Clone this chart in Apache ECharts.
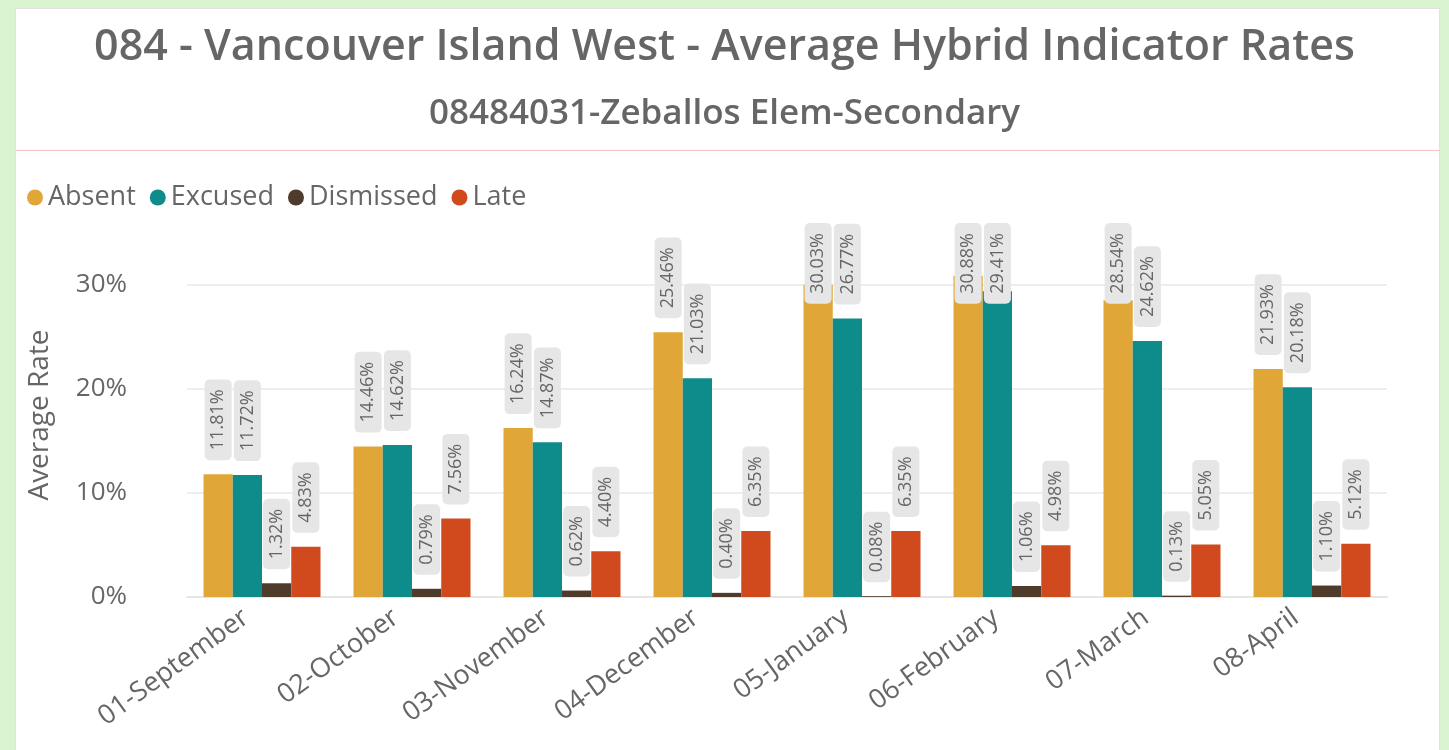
<!DOCTYPE html>
<html>
<head>
<meta charset="utf-8">
<script src="https://cdn.jsdelivr.net/npm/echarts@6/dist/echarts.min.js"></script>
<style>
html,body{margin:0;padding:0;width:1449px;height:750px;overflow:hidden;background:#d9f2d0;}
#panel{position:absolute;left:15px;top:8px;width:1425px;height:760px;background:#fff;border:1px solid #e2e2e2;box-sizing:border-box;}
#rule{position:absolute;left:16px;top:150px;width:1424px;height:1px;background:#f4c4c4;}
#chart{position:absolute;left:0;top:0;width:1449px;height:750px;}
</style>
</head>
<body>
<div id="panel"></div>
<div id="rule"></div>
<div id="chart"></div>
<script>
const titleText = '084 - Vancouver Island West - Average Hybrid Indicator Rates';
const subtitleText = '08484031-Zeballos Elem-Secondary';
const categories = ['01-September','02-October','03-November','04-December','05-January','06-February','07-March','08-April'];
const seriesNames = ['Absent','Excused','Dismissed','Late'];
const absent    = [11.81, 14.46, 16.24, 25.46, 30.03, 30.88, 28.54, 21.93];
const excused   = [11.72, 14.62, 14.87, 21.03, 26.77, 29.41, 24.62, 20.18];
const dismissed = [1.32, 0.79, 0.62, 0.40, 0.08, 1.06, 0.13, 1.10];
const late      = [4.83, 7.56, 4.40, 6.35, 6.35, 4.98, 5.05, 5.12];
const colors = ['#e0a738','#0e8c8c','#4f3b2b','#d04a1e'];
const FONT = "'Segoe UI','Open Sans',sans-serif";
const LABEL_TOP = 223; // labels are kept inside the plot area

const chart = echarts.init(document.getElementById('chart'), null, {renderer:'canvas'});
const seriesData = [absent, excused, dismissed, late];
const series = seriesData.map((d,i)=>({
  name: seriesNames[i],
  type: 'bar',
  data: d,
  barGap: '0%',
  barCategoryGap: '22%',
  clip: false,
  itemStyle: {color: colors[i]},
  label: {
    show: true,
    position: 'top',
    rotate: 90,
    align: 'left',
    verticalAlign: 'middle',
    distance: 14,
    formatter: p => p.value.toFixed(2) + '%',
    color: '#666',
    fontFamily: FONT,
    fontSize: 18,
    backgroundColor: '#e6e6e6',
    borderRadius: 5,
    padding: [5, 10, 4, 10]
  },
  labelLayout: function (p) {
    const r = p.labelRect;
    if (r && r.y < LABEL_TOP) return {dx: -(LABEL_TOP - r.y)};
    return {};
  }
}));

chart.setOption({
  animation: false,
  color: colors,
  title: [
    {text: titleText, left: 'center', top: 21,
     textStyle:{fontFamily: FONT, fontSize: 43, fontWeight: 600, color:'#666'}},
    {text: subtitleText, left: 'center', top: 92,
     textStyle:{fontFamily: FONT, fontSize: 35, fontWeight: 600, color:'#666'}}
  ],
  legend: {
    left: 22, top: 179,
    icon: 'circle',
    itemWidth: 16, itemHeight: 16,
    itemGap: 14,
    textStyle: {fontFamily: FONT, fontSize: 27, color:'#666'},
    data: seriesNames
  },
  grid: {left: 187, right: 62, top: 233, bottom: 153, containLabel: false},
  xAxis: {
    type: 'category',
    data: categories,
    axisLine: {show: true, lineStyle:{color:'#e6e6e6', width:2}},
    axisTick: {show: false},
    axisLabel: {rotate: 36, fontFamily: FONT, fontSize: 27, color:'#666', margin: 6, padding: [0, 20, 0, 0]}
  },
  yAxis: {
    type: 'value',
    min: 0, max: 35, interval: 10,
    name: 'Average Rate',
    nameLocation: 'middle',
    nameGap: 133,
    nameTextStyle: {fontFamily: FONT, fontSize: 28, color:'#666'},
    axisLine: {show:false},
    axisTick: {show:false},
    axisLabel: {fontFamily: FONT, fontSize: 26, color:'#666', margin: 60,
      formatter: v => (v % 10 === 0 ? v + '%' : '')},
    splitLine: {lineStyle:{color:['#e9e9e9','#e9e9e9','#e9e9e9','#e9e9e9','rgba(0,0,0,0)'], width:1.5}}
  },
  series: series
});
</script>
</body>
</html>
